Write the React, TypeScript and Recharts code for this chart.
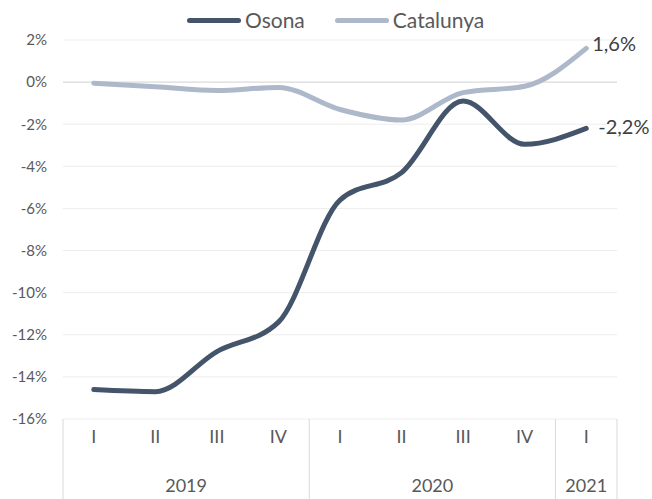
import React from "react";
import {
  LineChart,
  Line,
  XAxis,
  YAxis,
  CartesianGrid,
  ReferenceLine,
  LabelList,
} from "recharts";

const quarters = ["I", "II", "III", "IV", "I", "II", "III", "IV", "I"];
const years = ["2019", "2019", "2019", "2019", "2020", "2020", "2020", "2020", "2021"];
const osona = [-14.6, -14.7, -12.8, -11.4, -5.6, -4.3, -0.9, -2.95, -2.2];
const catalunya = [-0.05, -0.22, -0.4, -0.25, -1.3, -1.8, -0.5, -0.2, 1.6];
const yTicks = [2, 0, -2, -4, -6, -8, -10, -12, -14, -16];

const W = 652;
const H = 499;
const M = { top: 40, right: 35, bottom: 0, left: 0 };
const Y_W = 63;
const X_H = 80;
const AXIS_Y = H - X_H;
const BAND = (W - Y_W - M.right) / quarters.length;

const FONT = "Lato, 'Open Sans', sans-serif";
const TXT = "#595959";
const DARK = "#44546a";
const LIGHT = "#adb9ca";

const data = quarters.map((q, i) => ({
  key: i,
  q,
  year: years[i],
  Osona: osona[i],
  Catalunya: catalunya[i],
}));

// two-level category axis: quarter on top, year groups below with separators
function XTick(props: any) {
  const { x, payload } = props;
  const i = payload.value as number;
  const left = x - BAND / 2;
  const first = i === 0 || years[i] !== years[i - 1];
  const count = years.filter((y) => y === years[i]).length;
  return (
    <g>
      <text
        x={x}
        y={AXIS_Y + 19}
        textAnchor="middle"
        dominantBaseline="middle"
        fontFamily={FONT}
        fontSize={18}
        fill={TXT}
      >
        {quarters[i]}
      </text>
      {first && (
        <>
          <line x1={left} x2={left} y1={AXIS_Y} y2={H} stroke="#d9d9d9" />
          <text
            x={left + (count * BAND) / 2}
            y={AXIS_Y + 68}
            textAnchor="middle"
            dominantBaseline="middle"
            fontFamily={FONT}
            fontSize={18}
            fill={TXT}
          >
            {years[i]}
          </text>
        </>
      )}
      {i === quarters.length - 1 && (
        <line x1={x + BAND / 2} x2={x + BAND / 2} y1={AXIS_Y} y2={H} stroke="#d9d9d9" />
      )}
    </g>
  );
}

function LegendBox() {
  const item = (name: string, color: string, gap: number) => (
    <div style={{ display: "flex", alignItems: "center", marginRight: gap }}>
      <div style={{ width: 54, height: 5, borderRadius: 3, background: color, marginRight: 4 }} />
      <span style={{ fontFamily: FONT, fontSize: 21, color: TXT, lineHeight: "24px" }}>{name}</span>
    </div>
  );
  return (
    <div style={{ position: "absolute", left: 187, top: 8, display: "flex" }}>
      {item("Osona", DARK, 30)}
      {item("Catalunya", LIGHT, 0)}
    </div>
  );
}

const endLabel = (dx: number, dy: number) => (props: any) => {
  const { x, y, value, index } = props;
  if (index !== quarters.length - 1) return null;
  return (
    <text
      x={x + dx}
      y={y + dy}
      dominantBaseline="middle"
      fontFamily={FONT}
      fontSize={20}
      fill="#404040"
    >
      {value.toFixed(1).replace(".", ",") + "%"}
    </text>
  );
};

export default function App() {
  return (
    <div style={{ position: "absolute", left: 0, top: 0, width: W, height: H, background: "#fff" }}>
      <LineChart width={W} height={H} data={data} margin={M}>
        <CartesianGrid vertical={false} stroke="#ededed" />
        <ReferenceLine y={0} stroke="#d9d9d9" strokeWidth={1} />
        <XAxis
          dataKey="key"
          axisLine={false}
          tickLine={false}
          height={X_H}
          interval={0}
          padding={{ left: BAND / 2, right: BAND / 2 }}
          tick={<XTick />}
        />
        <YAxis
          width={Y_W}
          domain={[-16, 2]}
          ticks={yTicks}
          axisLine={false}
          tickLine={false}
          tickSize={0}
          tickMargin={16}
          tickFormatter={(v: number) => `${v}%`}
          tick={{ fontFamily: FONT, fontSize: 15, fill: TXT }}
          interval={0}
        />
        <Line
          type="monotone"
          dataKey="Osona"
          stroke={DARK}
          strokeWidth={5}
          dot={false}
          strokeLinecap="round"
          isAnimationActive={false}
        >
          <LabelList dataKey="Osona" content={endLabel(12, 1)} />
        </Line>
        <Line
          type="monotone"
          dataKey="Catalunya"
          stroke={LIGHT}
          strokeWidth={5}
          dot={false}
          strokeLinecap="round"
          isAnimationActive={false}
        >
          <LabelList dataKey="Catalunya" content={endLabel(6, -2)} />
        </Line>
      </LineChart>
      <LegendBox />
    </div>
  );
}
